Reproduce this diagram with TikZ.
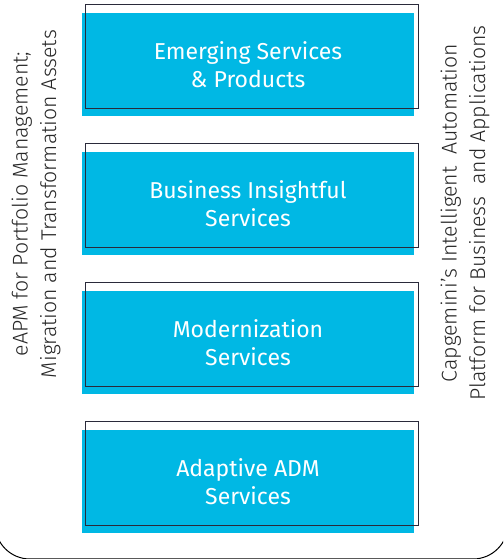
\documentclass[tikz,border=0pt]{standalone}
\usepackage{fontspec}
\setmainfont{Fira Sans}
\newfontfamily\lightfont{Fira Sans Light}
\usepackage{tikz}
\usetikzlibrary{positioning}
\definecolor{capblue}{HTML}{00B8E4}
\definecolor{framegray}{HTML}{2A2A3A}
\tikzstyle{service} = [rectangle, minimum width=332pt, minimum height=103pt, inner sep=0pt, fill=capblue, text=white, align=center, font=\fontsize{23}{28}\selectfont]
\tikzstyle{frame} = [draw=framegray, line width=1pt]

\begin{document}
\begin{tikzpicture}[
            x=1pt, y=1pt,
            sidetext/.style={rotate=90, align=center, text=black!85, font=\lightfont\fontsize{21.3}{28.5}\selectfont}
        ]
            \useasboundingbox (0,0) rectangle (503,559);
            % Outer border
            \begin{scope}
                \clip (0,0) rectangle (503,559);
                \draw [line width=1pt, rounded corners=35pt] (-5,620) -- (-5,0) -- (508,0) -- (508,620);
            \end{scope}

            % Nodes
            \node (emerging) [service] at (248,494.5) {Emerging Services\\\& Products};
            \node (insight) [service] at (248,355.5) {Business Insightful\\Services};
            \node (modern) [service] at (248,216.5) {Modernization\\Services};
            \node (adaptive) [service] at (248,77.5) {Adaptive ADM\\Services};

            % Frames
            \foreach \b in {emerging, insight, modern, adaptive}
                \draw [frame] ([shift={(4,8)}]\b.south west) rectangle ([shift={(4,8)}]\b.north east);

            % Side labels
            \node (eapm) [sidetext] at (36,355) {eAPM for Portfolio Management;\\Migration and Transformation Assets};
            \node (platform) [sidetext] at (465,346) {Capgemini’s Intelligent\ \ Automation\\Platform for Business\ \ and Applications};
        \end{tikzpicture}
\end{document}
